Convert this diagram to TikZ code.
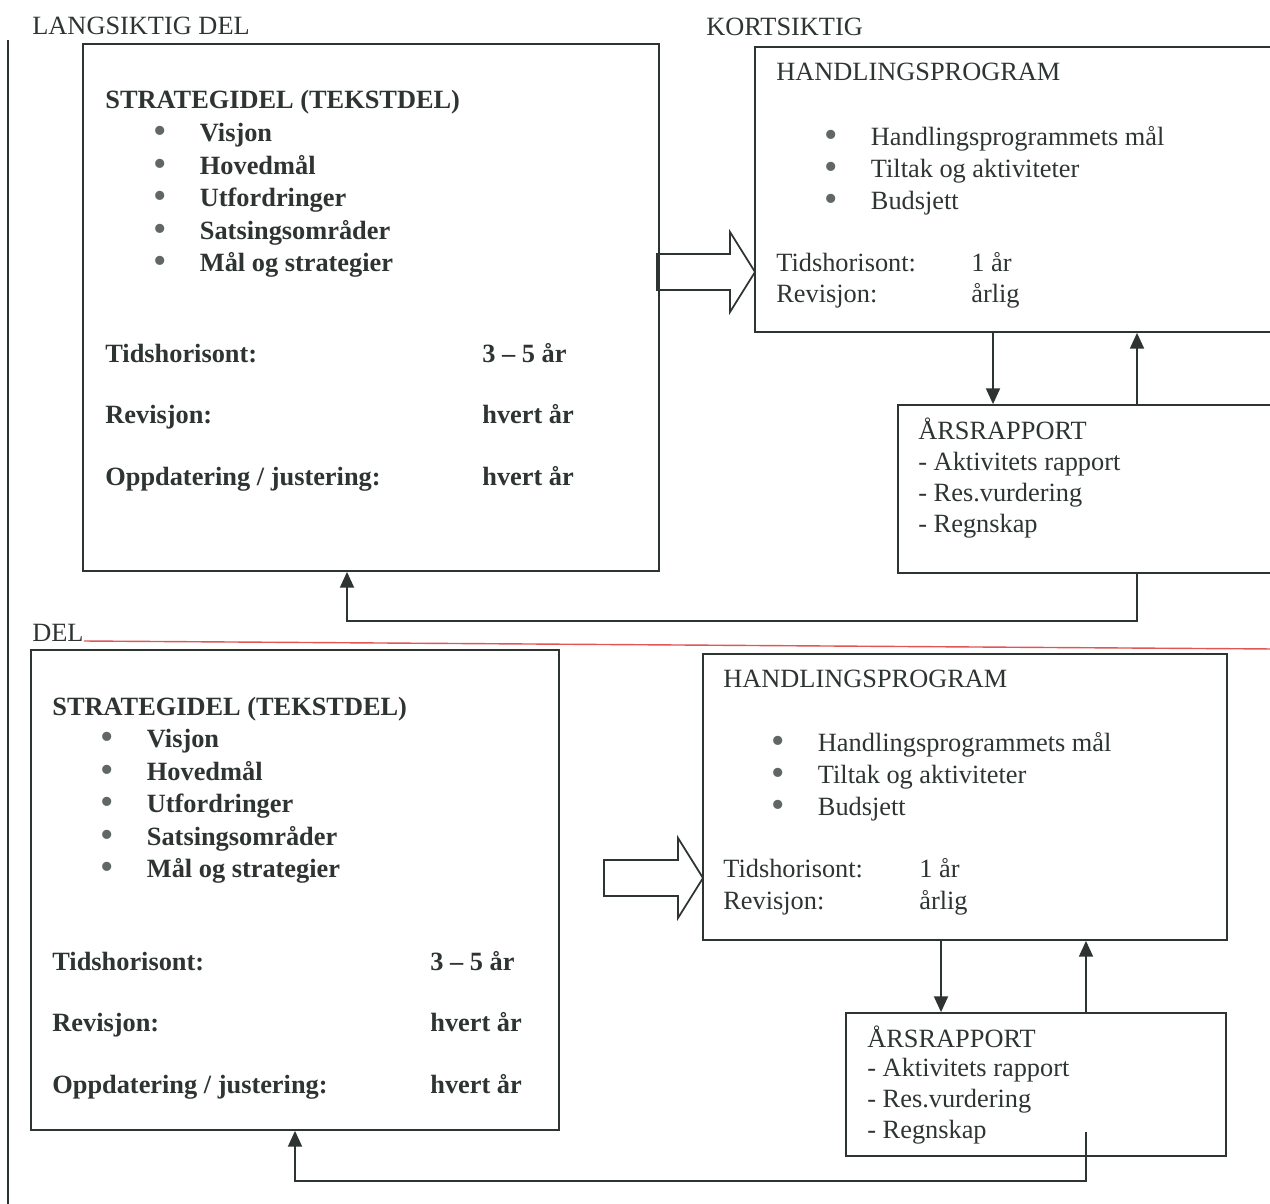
\documentclass[tikz,border=0pt]{standalone}
\usepackage{fontspec}
\usepackage{graphicx}
\setmainfont{Liberation Serif}
\usetikzlibrary{arrows.meta,fit}
\definecolor{ink}{RGB}{45,52,50}
\definecolor{redline}{RGB}{225,85,85}
\tikzset{
    txt/.style={anchor=base west, inner sep=0pt, text=ink, font=\fontsize{15}{18}\selectfont},
    bold/.style={txt, font=\fontsize{15}{18}\selectfont\bfseries},
    box/.style={draw=ink, line width=1pt, inner sep=0pt},
    link/.style={draw=ink, line width=1pt, -{Triangle[length=9pt,width=8pt]}},
    bigarrow/.style={draw=ink, line width=1pt, line join=miter}
}
\newcommand{\punkt}[1]{\makebox[26.5pt][l]{\smash{\textcolor{ink!75}{\raisebox{-1.2pt}{\scalebox{1.45}{\mdseries\textbullet}}}}}#1}
% hollow block arrow: left x, tip x, middle y
\newcommand{\tykkpil}[3]{%
    \draw[bigarrow] (#1,#3-18) -- (#2-25,#3-18) -- (#2-25,#3-40) -- (#2,#3)
        -- (#2-25,#3+40) -- (#2-25,#3+18) -- (#1,#3+18) -- cycle;}
\begin{document}
\begin{tikzpicture}[x=0.02cm, y=-0.02cm]
    \useasboundingbox (0,0) rectangle (1270,1203);
    \clip (0,0) rectangle (1270,1203);

    \draw[ink, line width=1pt] (8,40) -- (8,1210);
    \node[txt] (lang) at (32,35) {LANGSIKTIG DEL};
    \node[txt] (kort) at (706,36) {KORTSIKTIG};
    \node[txt] (del) at (32,641) {DEL};
    \draw[redline, line width=0.8pt] (del.base east) -- (1275,649);

    % boxes
    \node[box, fit={(83,44) (659,571)}] (st1) {};
    \node[box, fit={(755,47) (1290,332)}] (hp1) {};
    \node[box, fit={(898,405) (1290,573)}] (ar1) {};
    \node[box, fit={(31,650) (559,1130)}] (st2) {};
    \node[box, fit={(703,654) (1227,940)}] (hp2) {};
    \node[box, fit={(846,1013) (1226,1156)}] (ar2) {};

    % upper part
    \node[bold] (s1) at (105,109) {STRATEGIDEL (TEKSTDEL)};
    \foreach \t [count=\i] in {Visjon, Hovedmål, Utfordringer, Satsingsområder, Mål og strategier}
        \node[bold] (s1-\i) at (153,{109+32.5*\i}) {\punkt{\t}};
    \foreach \a/\b/\y [count=\i] in {Tidshorisont:/3 -- 5 år/362, Revisjon:/hvert år/423, {Oppdatering / justering:}/hvert år/485} {
        \node[bold] (t1-\i) at (105,\y) {\a};
        \node[bold] (v1-\i) at (482,\y) {\b};
    }
    \node[txt] (h1) at (776,81) {HANDLINGSPROGRAM};
    \foreach \t [count=\i] in {Handlingsprogrammets mål, Tiltak og aktiviteter, Budsjett}
        \node[txt] (h1-\i) at (824,{113+32*\i}) {\punkt{\t}};
    \node[txt] (ht1) at (776,271) {Tidshorisont:};
    \node[txt] (hv1) at (971,271) {1 år};
    \node[txt] (hr1) at (776,302) {Revisjon:};
    \node[txt] (hw1) at (971,302) {årlig};
    \node[txt] (a1) at (918,439) {ÅRSRAPPORT};
    \foreach \t [count=\i] in {Aktivitets rapport, Res.vurdering, Regnskap}
        \node[txt] (a1-\i) at (918,{439+31*\i}) {- \t};

    \tykkpil{657}{755}{272}
    \coordinate (d1) at (993,0);
    \coordinate (u1) at (1137,0);
    \coordinate (f1) at (347,0);
    \draw[link] (hp1.south -| d1) -- (ar1.north -| d1);
    \draw[link] (ar1.north -| u1) -- (hp1.south -| u1);
    \draw[link] (ar1.south -| u1) -- ++(0,47) -| (st1.south -| f1);

    % lower part
    \node[bold] (s2) at (52,715) {STRATEGIDEL (TEKSTDEL)};
    \foreach \t [count=\i] in {Visjon, Hovedmål, Utfordringer, Satsingsområder, Mål og strategier}
        \node[bold] (s2-\i) at (100,{715+32.5*\i}) {\punkt{\t}};
    \foreach \a/\b/\y [count=\i] in {Tidshorisont:/3 -- 5 år/970, Revisjon:/hvert år/1031, {Oppdatering / justering:}/hvert år/1093} {
        \node[bold] (t2-\i) at (52,\y) {\a};
        \node[bold] (v2-\i) at (430,\y) {\b};
    }
    \node[txt] (h2) at (723,687) {HANDLINGSPROGRAM};
    \foreach \t [count=\i] in {Handlingsprogrammets mål, Tiltak og aktiviteter, Budsjett}
        \node[txt] (h2-\i) at (771,{719+32*\i}) {\punkt{\t}};
    \node[txt] (ht2) at (723,877) {Tidshorisont:};
    \node[txt] (hv2) at (919,877) {1 år};
    \node[txt] (hr2) at (723,909) {Revisjon:};
    \node[txt] (hw2) at (919,909) {årlig};
    \node[txt] (a2) at (867,1047) {ÅRSRAPPORT};
    \foreach \t [count=\i] in {Aktivitets rapport, Res.vurdering, Regnskap}
        \node[txt] (a2-\i) at (867,{1046+30.7*\i}) {- \t};

    \tykkpil{604}{703}{878}
    \coordinate (d2) at (941,0);
    \coordinate (u2) at (1086,0);
    \coordinate (f2) at (295,0);
    \coordinate (g2) at (1086,1132);
    \draw[link] (hp2.south -| d2) -- (ar2.north -| d2);
    \draw[link] (ar2.north -| u2) -- (hp2.south -| u2);
    \draw[link] (g2) -- ++(0,49) -| (st2.south -| f2);
\end{tikzpicture}
\end{document}
